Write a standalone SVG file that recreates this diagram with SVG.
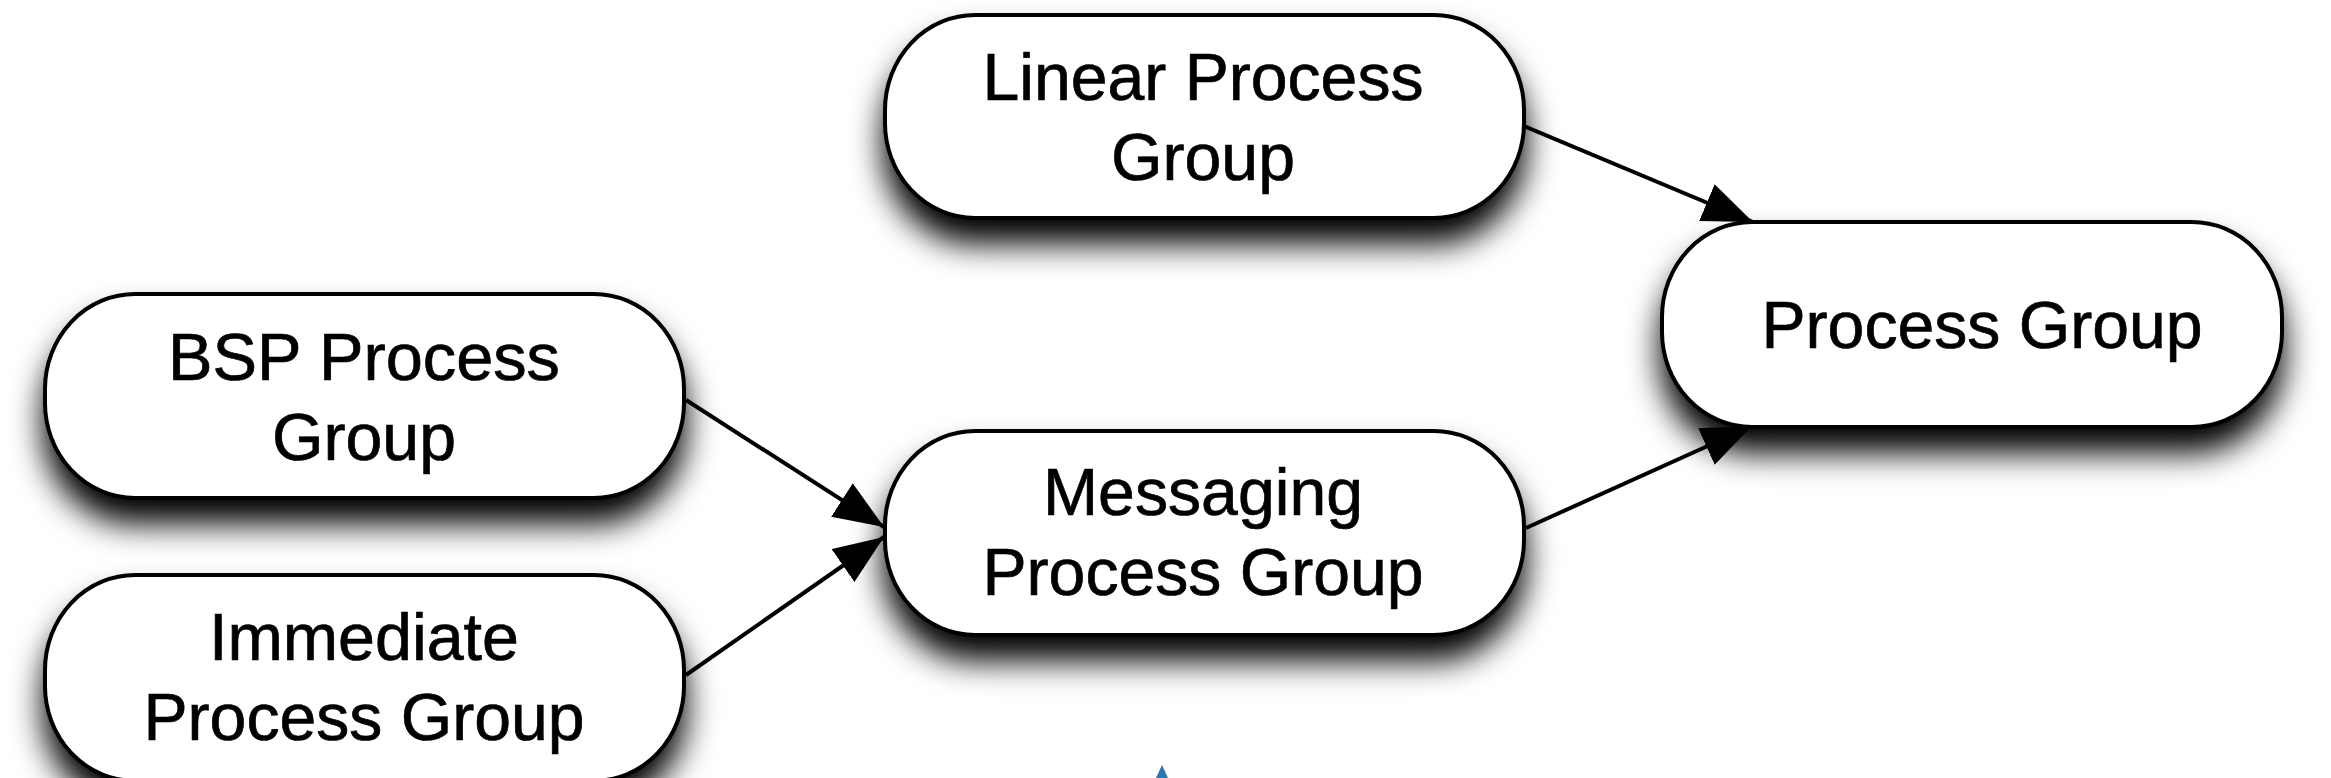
<svg xmlns="http://www.w3.org/2000/svg" width="2331" height="778" viewBox="0 0 2331 778">
  <style>
    .node rect { fill: #ffffff; stroke: #000000; stroke-width: 4; }
    .node text { font-family: "Liberation Sans", Arial, sans-serif; font-size: 67px; fill: #000000; stroke: #000000; stroke-width: 0.7; text-anchor: middle; }
    .conn line { stroke: #000000; stroke-width: 4; }
  </style>
  <defs>
    <filter id="shadow" x="-30%" y="-40%" width="160%" height="220%">
      <feGaussianBlur in="SourceAlpha" stdDeviation="16"/>
      <feOffset dx="0" dy="24" result="b"/>
      <feComponentTransfer><feFuncA type="linear" slope="1"/></feComponentTransfer>
      <feMerge><feMergeNode/><feMergeNode in="SourceGraphic"/></feMerge>
    </filter>
    <marker id="arrow" markerWidth="50" markerHeight="40" refX="50" refY="20" orient="auto" markerUnits="userSpaceOnUse">
      <path d="M0,0 L50,20 L0,40 Z" fill="#000000"/>
    </marker>
  </defs>
  <rect x="0" y="0" width="2331" height="778" fill="#ffffff"/>

  <g id="connectors" class="conn">
    <line x1="1524" y1="126" x2="1753" y2="222" marker-end="url(#arrow)"/>
    <line x1="1526" y1="528" x2="1752" y2="426" marker-end="url(#arrow)"/>
    <line x1="686" y1="400" x2="884" y2="527" marker-end="url(#arrow)"/>
    <line x1="686" y1="675" x2="884" y2="537" marker-end="url(#arrow)"/>
  </g>

  <g id="node-linear" class="node">
    <rect x="885" y="15" width="639" height="203" rx="90" ry="95" filter="url(#shadow)"/>
    <text x="1203" y="100" textLength="441" lengthAdjust="spacingAndGlyphs">Linear Process</text>
    <text x="1203" y="180" textLength="184" lengthAdjust="spacingAndGlyphs">Group</text>
  </g>
  <g id="node-process-group" class="node">
    <rect x="1662" y="222" width="620" height="205" rx="90" ry="95" filter="url(#shadow)"/>
    <text x="1982" y="348" textLength="441" lengthAdjust="spacingAndGlyphs">Process Group</text>
  </g>
  <g id="node-bsp" class="node">
    <rect x="45" y="294" width="639" height="204" rx="90" ry="95" filter="url(#shadow)"/>
    <text x="364" y="380" textLength="392" lengthAdjust="spacingAndGlyphs">BSP Process</text>
    <text x="364" y="460" textLength="184" lengthAdjust="spacingAndGlyphs">Group</text>
  </g>
  <g id="node-messaging" class="node">
    <rect x="885" y="431" width="639" height="204" rx="90" ry="95" filter="url(#shadow)"/>
    <text x="1203" y="515" textLength="320" lengthAdjust="spacingAndGlyphs">Messaging</text>
    <text x="1203" y="595" textLength="441" lengthAdjust="spacingAndGlyphs">Process Group</text>
  </g>
  <g id="node-immediate" class="node">
    <rect x="45" y="575" width="639" height="206" rx="90" ry="95" filter="url(#shadow)"/>
    <text x="364" y="660" textLength="310" lengthAdjust="spacingAndGlyphs">Immediate</text>
    <text x="364" y="740" textLength="441" lengthAdjust="spacingAndGlyphs">Process Group</text>
  </g>

  <path d="M1162,765 L1168,778 L1156,778 Z" fill="#2a78ad"/>
</svg>
